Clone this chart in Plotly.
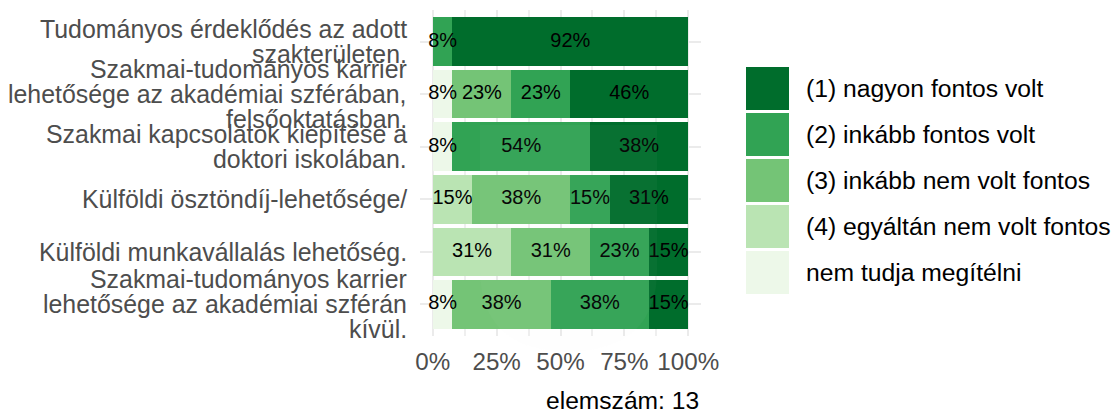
import plotly.graph_objects as go

categories = [
    "Tudományos érdeklődés az adott<br>szakterületen.",
    "Szakmai-tudományos karrier<br>lehetősége az akadémiai szférában,<br>felsőoktatásban.",
    "Szakmai kapcsolatok kiépítése a<br>doktori iskolában.",
    "Külföldi ösztöndíj-lehetősége/",
    "Külföldi munkavállalás lehetőség.",
    "Szakmai-tudományos karrier<br>lehetősége az akadémiai szférán<br>kívül.",
]
nem_tudja = [None, 7.69, 7.69, None, None, 7.69]
egyaltalan = [None, None, None, 15.38, 30.77, None]
inkabb_nem = [None, 23.08, None, 38.46, 30.77, 38.46]
inkabb = [7.69, 23.08, 53.85, 15.38, 23.08, 38.46]
nagyon = [92.31, 46.15, 38.46, 30.77, 15.38, 15.38]

series = [
    ("nem tudja megítélni", nem_tudja, "#EDF8E9"),
    ("(4) egyáltán nem volt fontos", egyaltalan, "#BAE4B3"),
    ("(3) inkább nem volt fontos", inkabb_nem, "#74C476"),
    ("(2) inkább fontos volt", inkabb, "#31A354"),
    ("(1) nagyon fontos volt", nagyon, "#006D2C"),
]
x_ticks = [0, 25, 50, 75, 100]
x_tick_labels = ["0%", "25%", "50%", "75%", "100%"]
caption = "elemszám: 13"

FONT = "Liberation Sans"
L, T, W, H = 420, 10, 281, 326


def px(x):
    return (x - L) / W


def py(y):
    return (T + H - y) / H


fig = go.Figure()
for name, vals, col in series:
    fig.add_trace(go.Bar(
        y=categories, x=vals, name=name, orientation="h",
        marker=dict(color=col, line_width=0), showlegend=False,
    ))

# value labels sit in their own top layer so that they can spill over neighbouring segments
cum = [0.0] * len(categories)
lx, ly, lt = [], [], []
for name, vals, col in series:
    for k, v in enumerate(vals):
        if v is not None:
            lx.append(cum[k] + v / 2)
            ly.append(categories[k])
            lt.append(f"{v:.0f}%")
            cum[k] += v
fig.add_trace(go.Scatter(x=lx, y=ly, text=lt, mode="text", textposition="middle center",
                         textfont=dict(family=FONT, size=20, color="#000000"),
                         showlegend=False, cliponaxis=False))

# legend keys and labels, top entry first
shapes, annotations = [], []
for i, (name, _, col) in enumerate(reversed(series)):
    top = 67 + i * 46
    shapes.append(dict(type="rect", xref="paper", yref="paper",
                       x0=px(746), x1=px(789), y0=py(top), y1=py(top + 43),
                       fillcolor=col, line_width=0, layer="above"))
    annotations.append(dict(text=name, xref="paper", yref="paper",
                            x=px(803.5), y=py(top + 21.5),
                            xanchor="left", yanchor="middle", showarrow=False,
                            font=dict(family=FONT, size=24.7, color="#000000")))
annotations.append(dict(text=caption, xref="paper", yref="paper",
                        x=1, y=py(400), xanchor="right", yanchor="middle",
                        showarrow=False, font=dict(family=FONT, size=24.6, color="#000000")))

# faint crest watermark over the plot
shapes.append(dict(type="path", xref="paper", yref="paper", layer="above", line_width=0,
                   fillcolor="rgba(215,220,235,0.035)",
                   path=(f"M{px(480)},{py(125)} L{px(657)},{py(125)} L{px(657)},{py(270)} "
                         f"Q{px(657)},{py(350)} {px(568)},{py(352)} "
                         f"Q{px(480)},{py(350)} {px(480)},{py(270)} Z")))

# category labels: set line by line, because their line pitch is tighter than the font
LINE_PITCH = 25
for cat in categories:
    lines = cat.split("<br>")
    for j, line in enumerate(lines):
        annotations.append(dict(text=line, xref="paper", yref="y", x=px(409), y=cat,
                                xanchor="right", yanchor="middle", showarrow=False,
                                yshift=((len(lines) - 1) / 2 - j) * LINE_PITCH,
                                font=dict(family=FONT, size=24.9, color="#4D4D4D")))

fig.update_layout(
    barmode="stack", bargap=0.075, width=1115, height=412,
    margin=dict(l=L, r=1115 - L - W, t=T, b=412 - T - H, autoexpand=False),
    paper_bgcolor="white", plot_bgcolor="white",
    shapes=shapes, annotations=annotations,
    xaxis=dict(range=[-5, 105], tickmode="array", tickvals=x_ticks, ticktext=x_tick_labels,
               gridcolor="#EBEBEB", gridwidth=2.2, zeroline=False, showline=False,
               ticks="outside", ticklen=4, tickcolor="rgba(0,0,0,0)",
               tickfont=dict(family=FONT, size=24.2, color="#4D4D4D"),
               minor=dict(tickvals=[12.5, 37.5, 62.5, 87.5], showgrid=True,
                          gridcolor="#EFEFEF", gridwidth=1.6)),
    yaxis=dict(type="category", range=[5.6, -0.6], categoryorder="array", categoryarray=categories,
               gridcolor="#EBEBEB", gridwidth=2.2, zeroline=False, showline=False,
               showticklabels=False),
)
fig.write_html("out.html", post_script="document.body.style.margin='0';",
               config={"displayModeBar": False})
